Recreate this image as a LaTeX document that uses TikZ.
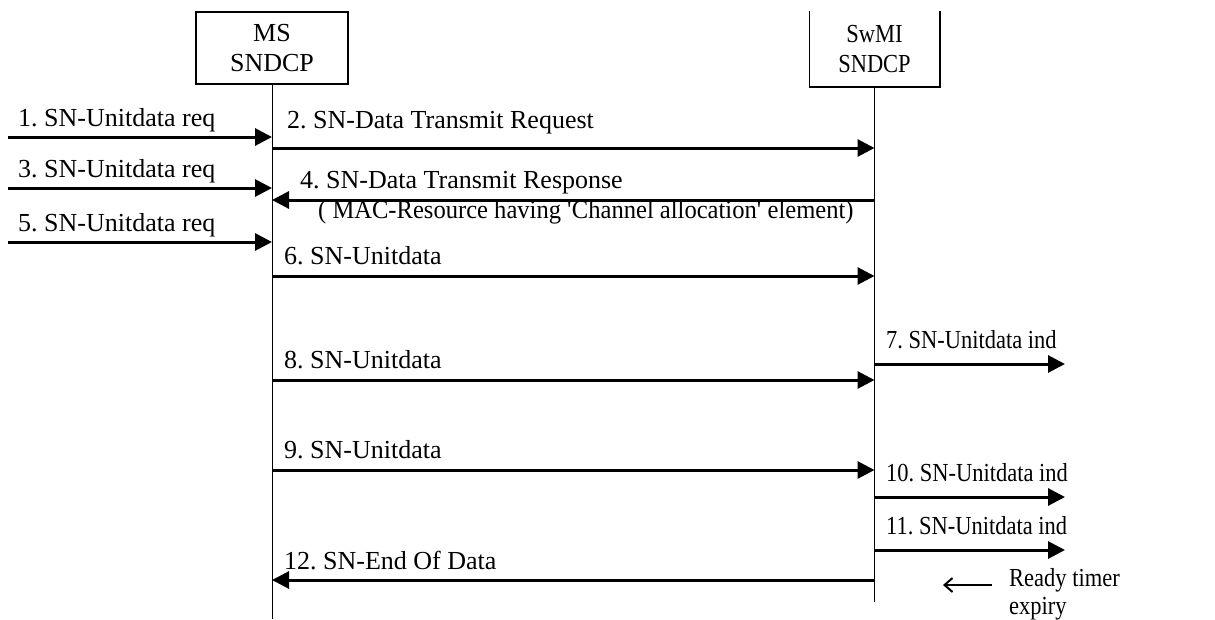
\documentclass[tikz,border=0pt]{standalone}
\usepackage{fontspec}
\setmainfont{Liberation Serif}
\newfontfamily\narrowfont[FakeStretch=0.865]{Liberation Serif}
\newfontfamily\semifont[FakeStretch=0.945]{Liberation Serif}
\usetikzlibrary{arrows.meta, positioning}

\begin{document}
\begin{tikzpicture}[
    x=1pt, y=-1pt,
    font=\fontsize{26}{30}\selectfont\frenchspacing,
    entity/.style={rectangle, draw, line width=1.5pt, align=center,
                   minimum width=152pt, minimum height=72pt, inner sep=0pt},
    lifeline/.style={line width=1pt},
    msg/.style={-{Triangle[length=17pt, width=17pt]}, line width=3pt},
    lbl/.style={anchor=base west, inner sep=0pt},
    lblsmall/.style={lbl, font=\narrowfont\fontsize{26}{30}\selectfont\frenchspacing}
  ]
  \useasboundingbox (0,0) rectangle (1215,619);

  % entities
  \node[entity] (ms) at (272,48) {MS\\SNDCP};
  \node[entity, draw=none, minimum width=129pt, minimum height=74pt,
        font=\narrowfont\fontsize{26}{30}\selectfont] (swmi) at (874.5,49) {SwMI\\SNDCP};
  \draw[line width=1.5pt] (swmi.north west) |- (swmi.south east) -- (swmi.north east);

  % lifelines
  \coordinate (msend) at (ms.south |- 0,619);
  \coordinate (swmiend) at (swmi.south |- 0,602);
  \draw[lifeline] (ms) -- (msend);
  \draw[lifeline] (swmi) -- (swmiend);

  % requests from the user
  \foreach \y/\n in {137/1, 188/3, 242/5} {
    \coordinate (req\n) at (8,\y);
    \draw[msg] (req\n) -- (ms.south |- req\n);
    \node[lbl] (lreq\n) at (18,\y-11) {\n. SN-Unitdata req};
  }

  % MS -> SwMI
  \draw[msg] (ms.south |- 0,148) -- (swmi.south |- 0,148);
  \node[lbl] (l2) at (287,128) {2. SN-Data Transmit Request};
  \draw[msg] (swmi.south |- 0,200) -- (ms.south |- 0,200);
  \node[lbl] (l4) at (300,188) {4. SN-Data Transmit Response};
  \node[lbl, font=\semifont\fontsize{26}{30}\selectfont\frenchspacing] (l4b) at (318,218)
       {( MAC-Resource having \textquotesingle Channel allocation\textquotesingle{} element)};
  \foreach \y/\n in {276/6, 380/8, 470/9} {
    \draw[msg] (ms.south |- 0,\y) -- (swmi.south |- 0,\y);
    \node[lbl] (ldata\n) at (284,\y-12) {\n. SN-Unitdata};
  }
  \draw[msg] (swmi.south |- 0,580) -- (ms.south |- 0,580);
  \node[lbl] (l12) at (284,569) {12. SN-End Of Data};

  % indications to the user
  \foreach \y/\n in {364/7, 497/10, 550/11} {
    \coordinate (ind\n) at (1065,\y);
    \draw[msg] (swmi.south |- ind\n) -- (ind\n);
    \node[lblsmall] (lind\n) at (886,\y-16) {\n. SN-Unitdata ind};
  }

  % ready timer
  \node[lblsmall] (ready) at (1009,586) {Ready timer};
  \node[lblsmall] (expiry) at (1009,614) {expiry};
  \coordinate (rtail) at (992,585);
  \coordinate (rtip) at (943,585);
  \draw[-{Straight Barb[length=8pt, width=14pt]}, line width=2pt] (rtail) -- (rtip);
\end{tikzpicture}
\end{document}
